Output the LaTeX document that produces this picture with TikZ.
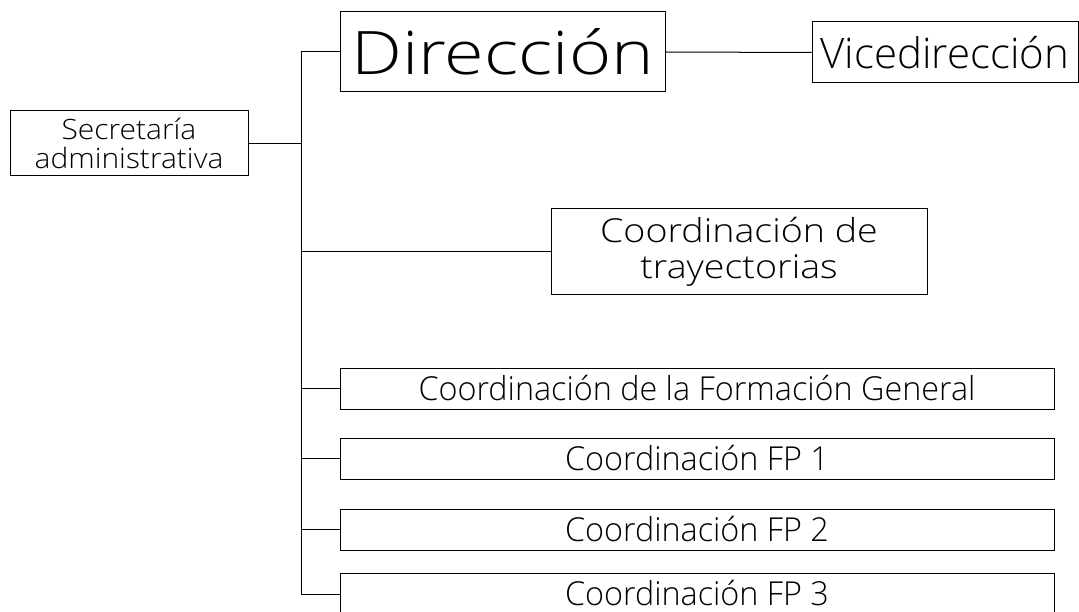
\documentclass[tikz,border=0pt]{standalone}
\usepackage{fontspec}
\setmainfont{Open Sans}[UprightFont=* Light]
\usetikzlibrary{positioning}

\tikzset{
  unit/.style={draw, line width=1pt, inner sep=0pt, align=center},
  link/.style={draw, line width=1pt},
  coord/.style={unit, minimum width=714, minimum height=41, font=\fontsize{33}{34}\selectfont},
}
\newcommand{\slim}[1]{\scalebox{0.98}[1]{#1}}

\begin{document}
\begin{tikzpicture}[x=1pt, y=-1pt]
	\useasboundingbox (0,0) rectangle (1079,612);
	\node [unit, minimum width=238, minimum height=65, font=\fontsize{28}{29}\selectfont] (sec) at (129,143.5) {\scalebox{1.07}[1]{Secretaría}\\\scalebox{1.07}[1]{administrativa}};
	\node [unit, minimum width=325, minimum height=80, font=\fontsize{60}{62}\selectfont] (dir) at (502.5,52) {\scalebox{1.2}[1]{Dirección}};
	\node [unit, minimum width=266, minimum height=61, font=\fontsize{42}{44}\selectfont] (vice) at (945,52.5) {Vicedirección};
	\node [unit, minimum width=376, minimum height=86, font=\fontsize{33}{36}\selectfont] (tray) at (739,252) {\scalebox{1.14}[1]{Coordinación de}\\\scalebox{1.14}[1]{trayectorias}};
	\node [coord] (fg) at (697,388.5) {\slim{Coordinación de la Formación General}};
	\node [coord] (fp1) at (697,458.5) {\slim{Coordinación FP 1}};
	\node [coord] (fp2) at (697,529.5) {\slim{Coordinación FP 2}};
	\node [coord] (fp3) at (697,593.5) {\slim{Coordinación FP 3}};
	\coordinate (top) at (301,52);
	\coordinate (bot) at (301,594);
	% tronco vertical y ramas
	\draw [link] (top) -- (bot);
	\draw [link] (sec.east) -- (sec.east -| top);
	\draw [link] (top) -- (dir.west);
	\draw [link] (dir.east) -- (vice.west);
	\draw [link] (tray.west -| top) -- (tray.west);
	\draw [link] (fg.west -| top) -- (fg.west);
	\draw [link] (fp1.west -| top) -- (fp1.west);
	\draw [link] (fp2.west -| top) -- (fp2.west);
	\draw [link] (bot) -- (bot -| fp3.west);
\end{tikzpicture}
\end{document}
